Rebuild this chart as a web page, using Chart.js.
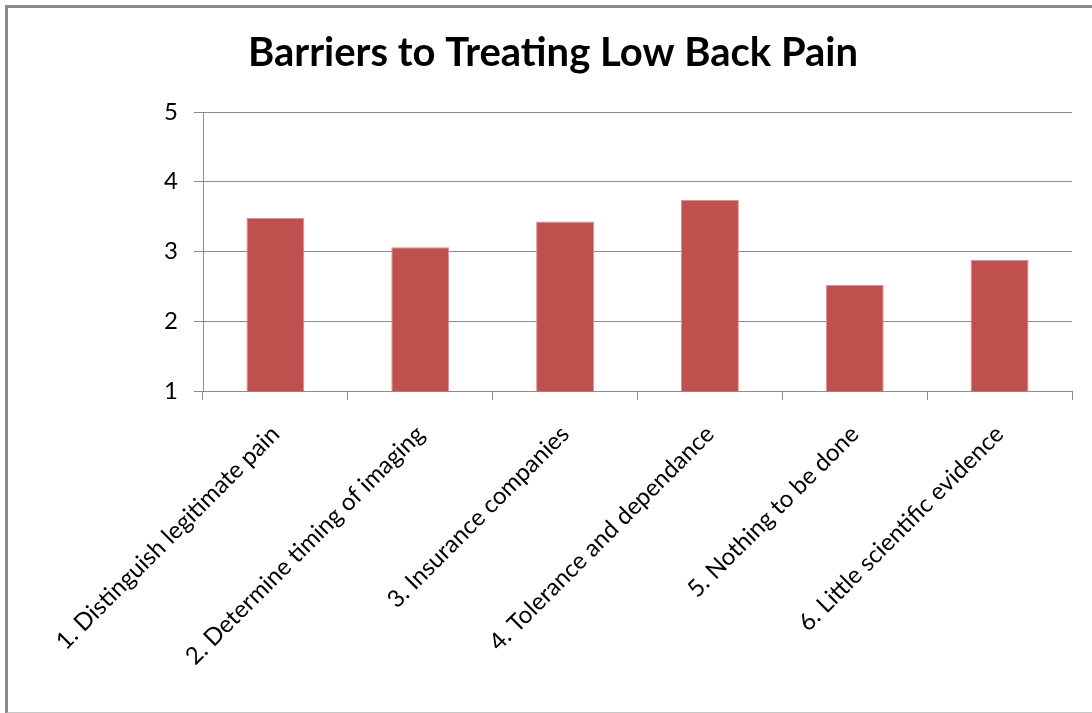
<!DOCTYPE html>
<html>
<head>
<meta charset="utf-8">
<script src="https://cdn.jsdelivr.net/npm/chart.js@4"></script>
<style>
  html, body { margin: 0; padding: 0; background: #fff; }
  #wrap { position: relative; width: 1092px; height: 713px; }
  #frame {
    position: absolute; left: 5px; top: 5px; width: 1092px; height: 704px;
    border-top: 3px solid #8a8a8a; border-left: 3px solid #8a8a8a; border-bottom: 2px solid #c8c8c8;
    pointer-events: none;
  }
</style>
</head>
<body>
<div id="wrap">
  <canvas id="chart" width="1092" height="713"></canvas>
  <div id="frame"></div>
</div>
<script>
const titleText = "Barriers to Treating Low Back Pain"
const categories = [
  "1. Distinguish legitimate pain",
  "2. Determine timing of imaging",
  "3. Insurance companies",
  "4. Tolerance and dependance",
  "5. Nothing to be done",
  "6. Little scientific evidence"
]
const scores = [3.48, 3.06, 3.43, 3.74, 2.52, 2.88]
const yTicks = [1, 2, 3, 4, 5]

const fontFamily = "Lato, 'Open Sans', sans-serif"
const gridColor = "#8c8c8c"

new Chart(document.getElementById("chart"), {
  type: "bar",
  data: {
    labels: categories,
    datasets: [{
      data: scores,
      backgroundColor: "#C0504D",
      borderColor: "#D9908E",
      borderWidth: 1,
      barPercentage: 0.4,
      categoryPercentage: 1
    }]
  },
  options: {
    responsive: false,
    animation: false,
    layout: { padding: { top: 0, right: 20, left: 34, bottom: 0 } },
    plugins: {
      legend: { display: false },
      tooltip: { enabled: false },
      title: {
        display: true,
        text: titleText,
        color: "#000",
        font: { family: fontFamily, size: 40, weight: "bold" },
        padding: { top: 29, bottom: 35 }
      }
    },
    scales: {
      x: {
        grid: { offset: true, drawOnChartArea: false, drawTicks: true, tickLength: 9, color: gridColor },
        border: { color: gridColor, width: 1 },
        ticks: {
          color: "#000",
          font: { family: fontFamily, size: 24 },
          maxRotation: 45,
          minRotation: 45,
          padding: 20
        },
        afterFit(scale){ scale.height = 322 }
      },
      y: {
        min: yTicks[0],
        max: yTicks[yTicks.length - 1],
        afterBuildTicks(scale){ scale.ticks = yTicks.map(v => ({ value: v })) },
        grid: { color: gridColor, tickLength: 9 },
        border: { color: gridColor, width: 1 },
        ticks: {
          color: "#000",
          font: { family: fontFamily, size: 24 },
          padding: 16
        },
        afterFit(scale){ scale.width = 169 }
      }
    }
  }
})
</script>
</body>
</html>
